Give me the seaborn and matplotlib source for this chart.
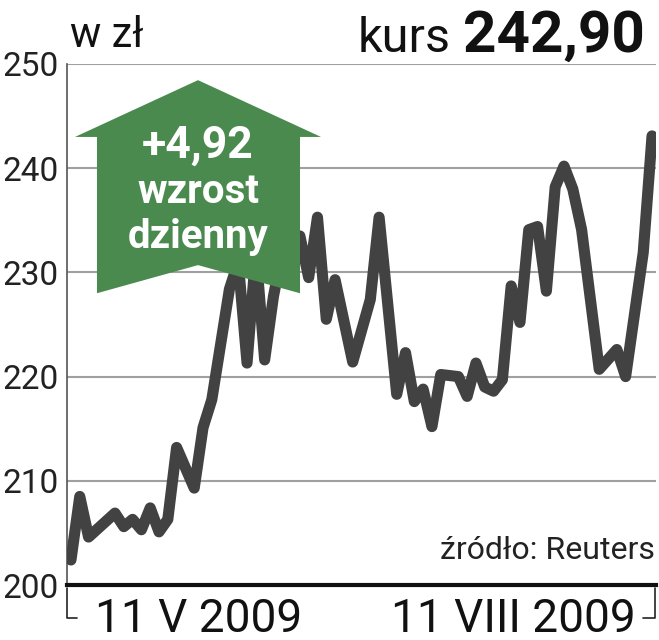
import matplotlib
matplotlib.use("Agg")
import matplotlib.pyplot as plt
from matplotlib.patches import Polygon
from matplotlib.lines import Line2D
import seaborn as sns
import pandas as pd

# trading days since 11 V 2009 and closing price (zl)
days = [0, 1, 2, 5, 6, 7, 8, 9, 10, 11, 12, 14, 15, 16, 18, 19, 20, 21, 22, 23,
        24, 25, 26, 27, 28, 29, 30, 32, 34, 35, 37, 38, 39, 40, 41, 42, 44, 45,
        46, 47, 48, 49, 50, 51, 52, 53, 54, 55, 56, 57, 58, 60, 62, 63, 65, 66]
price = [202.4, 208.5, 204.6, 206.9, 205.6, 206.3, 205.3, 207.4, 205.1, 206.3,
         213.2, 209.3, 215.1, 217.8, 228.4, 231.0, 221.3, 232.0, 221.6, 227.7,
         232.0, 230.0, 233.5, 229.5, 235.3, 225.5, 229.3, 221.4, 227.4, 235.3,
         218.3, 222.3, 217.6, 218.8, 215.2, 220.2, 220.0, 218.1, 221.3, 219.0,
         218.6, 219.7, 228.7, 225.2, 234.1, 234.4, 228.2, 238.2, 240.2, 238.0,
         234.1, 220.7, 222.6, 220.0, 231.9, 243.1]
yticks = [200, 210, 220, 230, 240, 250]
date_labels = ["11 V 2009", "11 VIII 2009"]
kurs = "242,90"
change = "+4,92"

df = pd.DataFrame({"day": days, "price": price})

sns.set_style("white")
plt.rcParams["font.family"] = ["Roboto", "DejaVu Sans"]

fig = plt.figure(figsize=(6.59, 6.40), dpi=100)
ax = fig.add_axes([67 / 659, 55 / 640, 589 / 659, 521 / 640])

sns.lineplot(data=df, x="day", y="price", ax=ax, color="#424242", linewidth=8,
             solid_joinstyle="round", solid_capstyle="round", zorder=3)

ax.set_xlim(-0.45, 66.45)
ax.set_ylim(200, 250)
ax.set_yticks(yticks)
ax.set_yticklabels([str(t) for t in yticks], fontsize=24, color="#222222")
ax.set_xticks([])
ax.set_xlabel("")
ax.set_ylabel("")
ax.tick_params(axis="y", length=0, pad=6)
for t in yticks[1:]:
    ax.axhline(t, color="#a0a0a0", linewidth=1.5, zorder=1)
ax.spines["right"].set_visible(False)
ax.spines["top"].set_visible(False)
ax.spines["left"].set_color("#555555")
ax.spines["left"].set_linewidth(1.2)
ax.spines["bottom"].set_color("#111111")
ax.spines["bottom"].set_linewidth(3)

# green arrow
arrow = Polygon([(0.0136, 0.860), (0.2224, 0.969), (0.4312, 0.860), (0.3956, 0.860),
                 (0.3956, 0.560), (0.2224, 0.614), (0.0509, 0.560), (0.0509, 0.860)],
                closed=True, transform=ax.transAxes, facecolor="#4a8a4e",
                edgecolor="none", zorder=5)
ax.add_patch(arrow)
ax.text(0.2224, 0.821, change, transform=ax.transAxes, ha="center", va="baseline",
        fontsize=32, fontweight="bold", color="white", zorder=6)
ax.text(0.2224, 0.733, "wzrost", transform=ax.transAxes, ha="center", va="baseline",
        fontsize=29, fontweight="bold", color="white", zorder=6)
ax.text(0.2224, 0.647, "dzienny", transform=ax.transAxes, ha="center", va="baseline",
        fontsize=29, fontweight="bold", color="white", zorder=6)

ax.text(0.998, 0.05, "źródło: Reuters", transform=ax.transAxes, ha="right",
        va="baseline", fontsize=23, color="#222222", zorder=6)

# header
fig.text(70 / 659, 1 - 47 / 640, "w zł", ha="left", va="baseline", fontsize=30,
         color="#111111")
fig.text(645 / 659, 1 - 52 / 640, kurs, ha="right", va="baseline", fontsize=42,
         fontweight="bold", color="#111111")
fig.text(451 / 659, 1 - 52 / 640, "kurs", ha="right", va="baseline", fontsize=35,
         color="#111111")

# date labels with brackets
fig.text(95 / 659, 1 - 632 / 640, date_labels[0], ha="left", va="baseline",
         fontsize=33, color="#111111")
fig.text(636 / 659, 1 - 632 / 640, date_labels[1], ha="right", va="baseline",
         fontsize=33, color="#111111")
for xs, ys in [([67, 67, 77], [588, 618, 618]), ([643, 655, 655], [618, 618, 588])]:
    fig.add_artist(Line2D([x / 659 for x in xs], [1 - y / 640 for y in ys],
                          color="#222222", linewidth=1.2))

plt.savefig("out.png", dpi=100)
